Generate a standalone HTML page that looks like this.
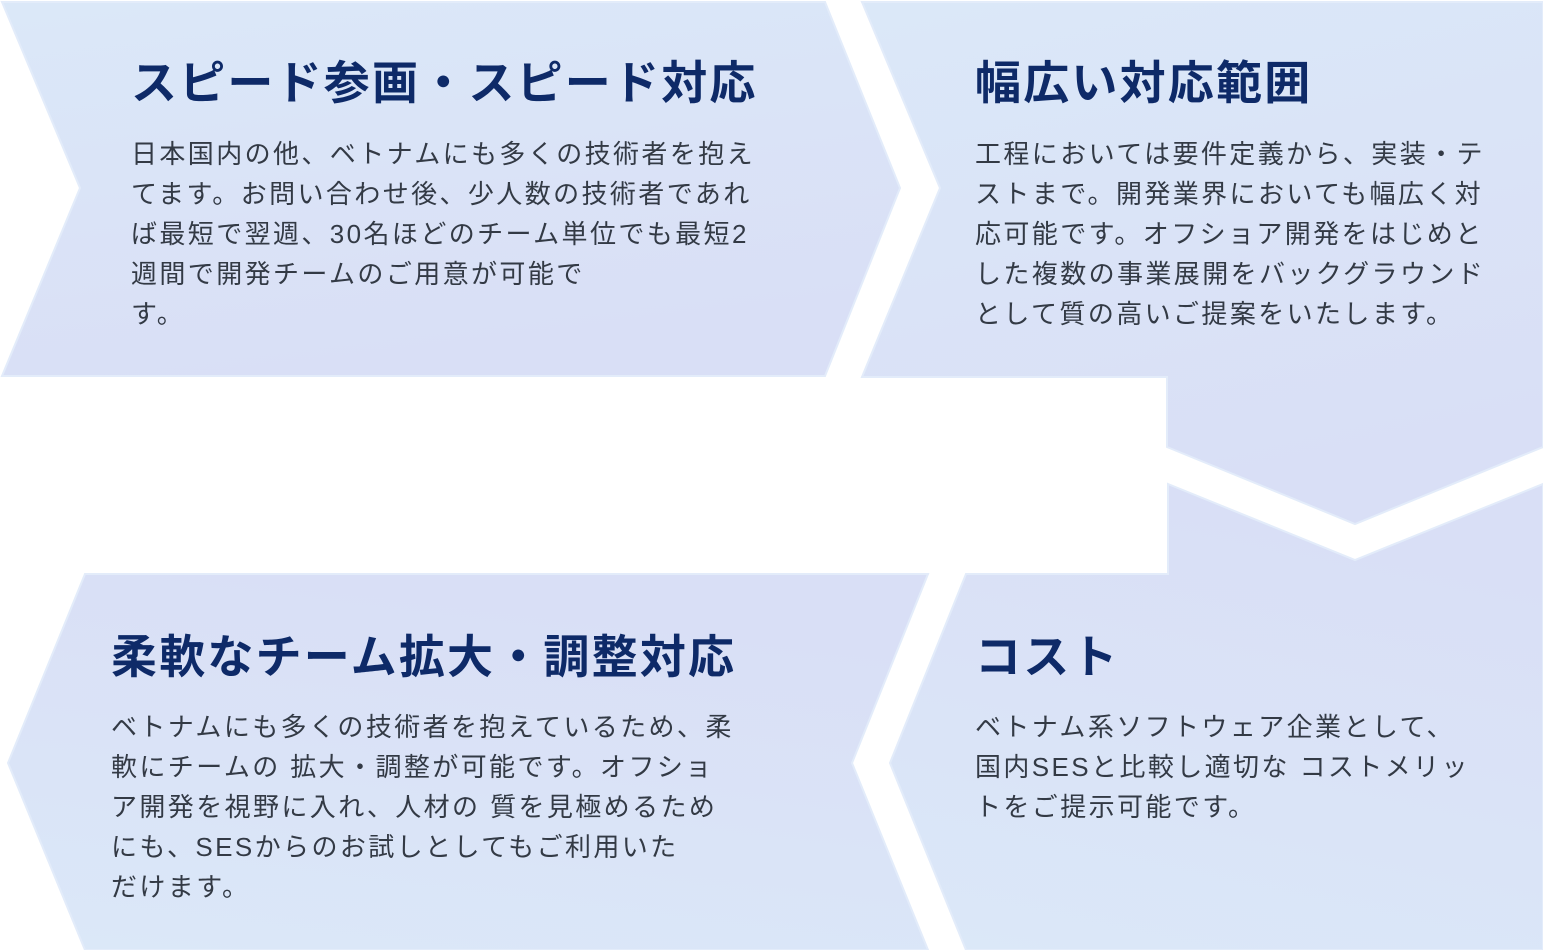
<!DOCTYPE html>
<html><head><meta charset="utf-8"><style>
body{margin:0;width:1543px;height:950px;background:#fff;position:relative;overflow:hidden;font-family:"Liberation Sans","Noto Sans CJK JP",sans-serif}
svg{position:absolute;left:0;top:0}
.t{position:absolute;font-size:46px;font-weight:bold;color:#0e2a68;white-space:nowrap;line-height:50px;letter-spacing:2.2px}
.b{position:absolute;font-size:26px;color:#333a45;line-height:40px;white-space:nowrap;letter-spacing:2.4px}
</style></head><body>
<svg width="1543" height="950">
<defs>
<linearGradient id="g" x1="0" y1="0" x2="0.3" y2="1">
<stop offset="0" stop-color="#dbe8f8"/><stop offset="1" stop-color="#d9dff6"/></linearGradient>
<linearGradient id="g2" x1="0" y1="1" x2="0.3" y2="0">
<stop offset="0" stop-color="#dbe8f8"/><stop offset="1" stop-color="#d9dff6"/></linearGradient>
</defs>
<g stroke="#e3ecfa" stroke-width="2">
<polygon fill="url(#g)" points="2,2 825,2 900,188 825,376 2,376 80,188"/>
<polygon fill="url(#g)" points="862,2 1543,2 1543,447 1355,524 1167,447 1167,377 862,377 940,188"/>
<polygon fill="url(#g2)" points="85,574 928,574 852,763 928,950 85,950 8,763"/>
<polygon fill="url(#g2)" points="1168,484 1355,560 1543,484 1543,950 966,950 890,763 966,574 1168,574"/>
</g>
</svg>
<div class="t" style="left:131px;top:58px">スピード参画・スピード対応</div>
<div class="b" style="left:131px;top:134px">日本国内の他、ベトナムにも多くの技術者を抱え<br>てます。お問い合わせ後、少人数の技術者であれ<br>ば最短で翌週、30名ほどのチーム単位でも最短2<br>週間で開発チームのご用意が可能で<br>す。</div>
<div class="t" style="left:975px;top:58px">幅広い対応範囲</div>
<div class="b" style="left:975px;top:134px">工程においては要件定義から、実装・テ<br>ストまで。開発業界においても幅広く対<br>応可能です。オフショア開発をはじめと<br>した複数の事業展開をバックグラウンド<br>として質の高いご提案をいたします。</div>
<div class="t" style="left:111px;top:632px">柔軟なチーム拡大・調整対応</div>
<div class="b" style="left:111px;top:707px">ベトナムにも多くの技術者を抱えているため、柔<br>軟にチームの 拡大・調整が可能です。オフショ<br>ア開発を視野に入れ、人材の 質を見極めるため<br>にも、SESからのお試しとしてもご利用いた<br>だけます。</div>
<div class="t" style="left:975px;top:632px">コスト</div>
<div class="b" style="left:975px;top:707px">ベトナム系ソフトウェア企業として、<br>国内SESと比較し適切な コストメリッ<br>トをご提示可能です。</div>
</body></html>
